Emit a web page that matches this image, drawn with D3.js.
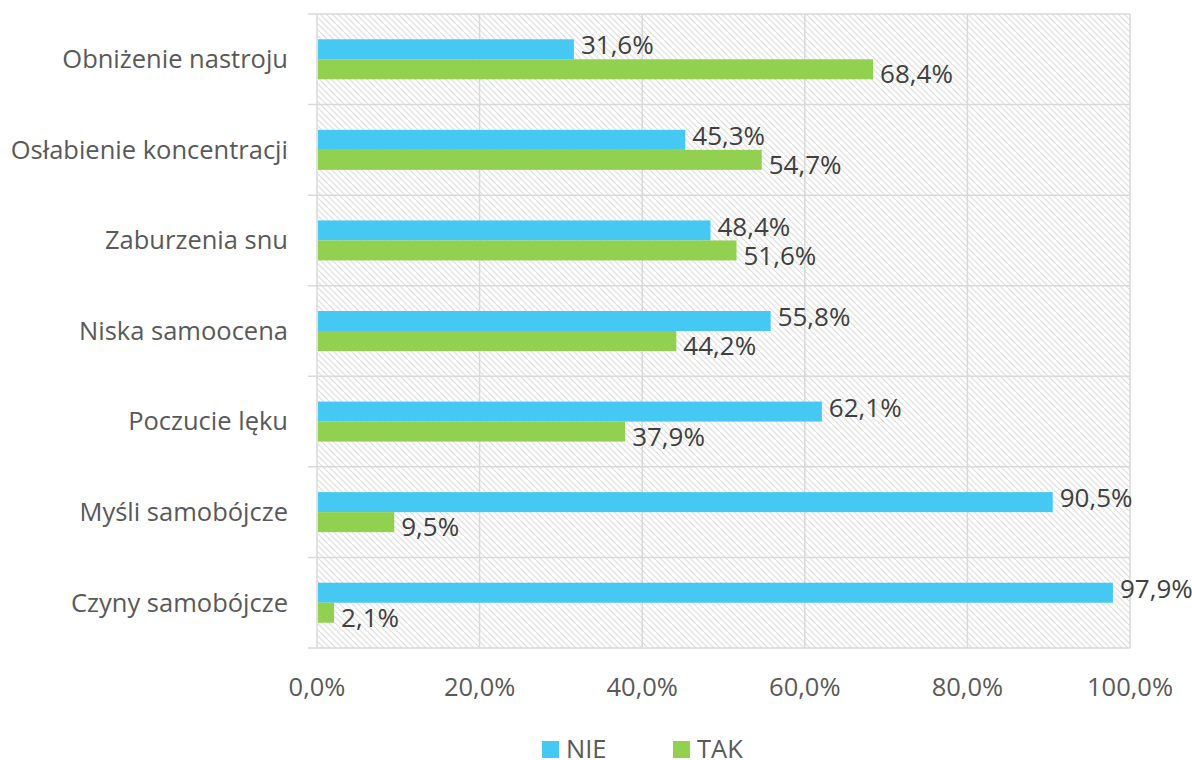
<!DOCTYPE html>
<html lang="pl">
<head>
<meta charset="utf-8">
<title>Objawy</title>
<script src="https://cdn.jsdelivr.net/npm/d3@7"></script>
<style>
  body { margin: 0; background: #fff; }
  text { font-family: "Open Sans", "Noto Sans", sans-serif; }
</style>
</head>
<body>
<svg width="1192" height="760"></svg>
<script>
// data
var categories = ['Obniżenie nastroju', 'Osłabienie koncentracji', 'Zaburzenia snu',
  'Niska samoocena', 'Poczucie lęku', 'Myśli samobójcze', 'Czyny samobójcze'];
var series = ['NIE', 'TAK'];
var nieValues = [31.6, 45.3, 48.4, 55.8, 62.1, 90.5, 97.9];
var takValues = [68.4, 54.7, 51.6, 44.2, 37.9, 9.5, 2.1];
var xTicks = [0, 20, 40, 60, 80, 100];
var colors = { NIE: '#45c9f2', TAK: '#92d050' };

var svg = d3.select('svg');
var plotL = 317, plotR = 1130, plotT = 14, plotB = 648;
var fs = 25.5;

var x = d3.scaleLinear().domain([0, 100]).range([plotL, plotR]);
var y = d3.scaleBand().domain(categories).range([plotT, plotB]);
var inner = d3.scaleBand().domain(series).range([y.bandwidth() / 2 - 20, y.bandwidth() / 2 + 20]);

var fmt = function(v) { return v.toFixed(1).replace('.', ',') + '%'; };

// hatch pattern background
var defs = svg.append('defs');
var pat = defs.append('pattern')
  .attr('id', 'hatch')
  .attr('patternUnits', 'userSpaceOnUse')
  .attr('width', 6).attr('height', 6);
pat.append('path')
  .attr('d', 'M-1,-1 L7,7 M-1,5 L1,7 M5,-1 L7,1')
  .attr('stroke', '#dedede')
  .attr('stroke-width', 1.2);

svg.append('rect')
  .attr('x', plotL).attr('y', plotT)
  .attr('width', plotR - plotL).attr('height', plotB - plotT)
  .attr('fill', 'url(#hatch)');

// vertical grid
svg.append('g').selectAll('line')
  .data(xTicks)
  .enter().append('line')
  .attr('x1', d => x(d)).attr('x2', d => x(d))
  .attr('y1', plotT).attr('y2', plotB)
  .attr('stroke', '#d9d9d9').attr('stroke-width', 1.5);

// horizontal category boundaries (with left ticks)
var bounds = categories.map(c => y(c)).concat([plotB]);
svg.append('g').selectAll('line')
  .data(bounds)
  .enter().append('line')
  .attr('x1', plotL - 9).attr('x2', plotR)
  .attr('y1', d => d).attr('y2', d => d)
  .attr('stroke', '#d9d9d9').attr('stroke-width', 1.5);

// bars
var rows = categories.map((c, i) => ({ cat: c, NIE: nieValues[i], TAK: takValues[i] }));
var groups = svg.append('g').selectAll('g')
  .data(rows)
  .enter().append('g')
  .attr('transform', d => 'translate(0,' + y(d.cat) + ')');

groups.selectAll('rect')
  .data(d => series.map(s => ({ s: s, v: d[s] })))
  .enter().append('rect')
  .attr('x', x(0) + 1)
  .attr('y', d => inner(d.s))
  .attr('width', d => x(d.v) - x(0) - 1)
  .attr('height', inner.bandwidth())
  .attr('fill', d => colors[d.s]);

groups.selectAll('text')
  .data(d => series.map(s => ({ s: s, v: d[s] })))
  .enter().append('text')
  .attr('x', d => x(d.v) + 7)
  .attr('y', d => inner(d.s) + inner.bandwidth() / 2 + (d.s === 'NIE' ? -4 : 5))
  .attr('dy', '0.35em')
  .attr('font-size', 26)
  .attr('fill', '#404040')
  .text(d => fmt(d.v));

// category labels
svg.append('g').selectAll('text')
  .data(categories)
  .enter().append('text')
  .attr('x', 288)
  .attr('y', d => y(d) + y.bandwidth() / 2)
  .attr('dy', '0.35em')
  .attr('text-anchor', 'end')
  .attr('font-size', fs)
  .attr('fill', '#595959')
  .text(d => d);

// x tick labels
svg.append('g').selectAll('text')
  .data(xTicks)
  .enter().append('text')
  .attr('x', d => x(d))
  .attr('y', 687)
  .attr('dy', '0.35em')
  .attr('text-anchor', 'middle')
  .attr('font-size', fs)
  .attr('fill', '#595959')
  .text(d => fmt(d));

// legend
var legendX = [542, 673];
var legend = svg.append('g').selectAll('g')
  .data(series)
  .enter().append('g')
  .attr('transform', (d, i) => 'translate(' + legendX[i] + ',741)');
legend.append('rect')
  .attr('width', 17).attr('height', 17)
  .attr('fill', d => colors[d]);
legend.append('text')
  .attr('x', 24).attr('y', 8.5)
  .attr('dy', '0.35em')
  .attr('font-size', fs)
  .attr('fill', '#595959')
  .text(d => d);
</script>
</body>
</html>
